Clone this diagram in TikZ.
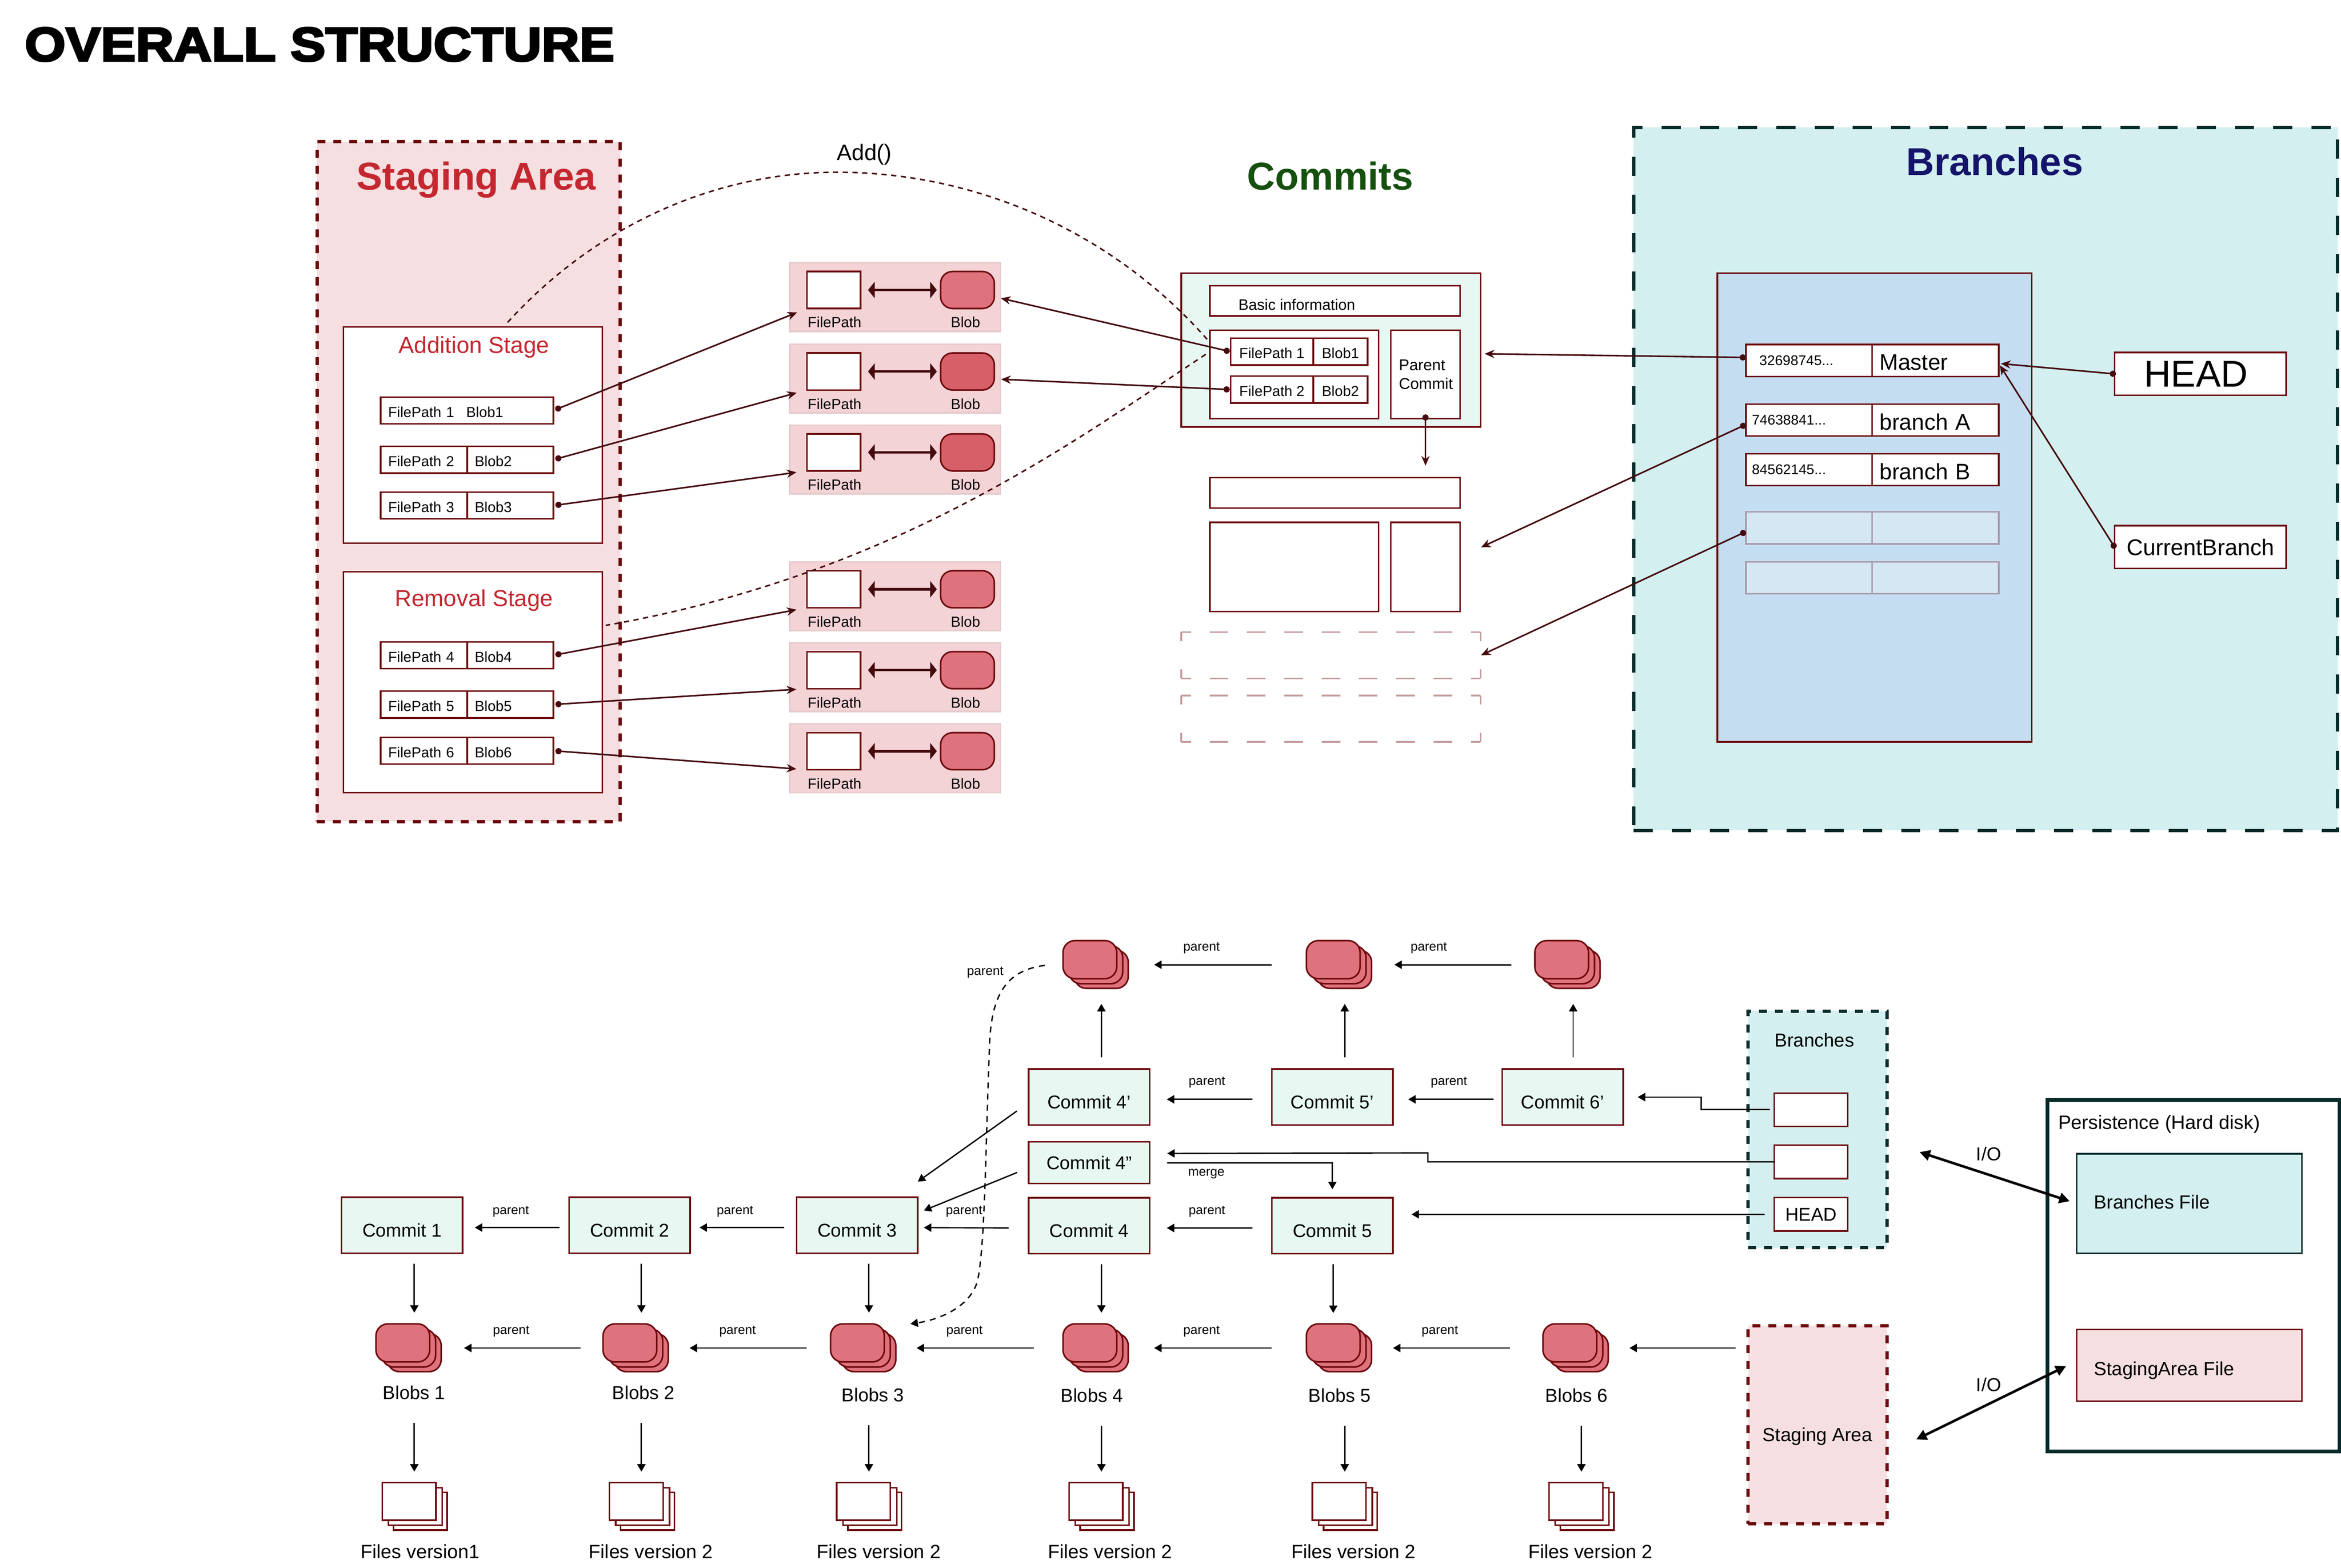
\documentclass[tikz,border=0pt]{standalone}
\usepackage{fontspec}
\setmainfont{Liberation Sans}
\newfontfamily\headfont[BoldFeatures={FakeBold=4,FakeStretch=1.1}]{Liberation Sans}
\usetikzlibrary{arrows.meta}
\definecolor{wine}{HTML}{6D0A0E}
\definecolor{deep}{HTML}{450A0E}
\definecolor{teal}{HTML}{062B2B}
\definecolor{stagefill}{HTML}{F5DFE1}
\definecolor{groupfill}{HTML}{F3D3D6}
\definecolor{blobfill}{HTML}{DF737D}
\definecolor{blobdark}{HTML}{D65F68}
\definecolor{branchfill}{HTML}{D3EFEF}
\definecolor{tablefill}{HTML}{C5DDF0}
\definecolor{ghostfill}{HTML}{D5E7F3}
\definecolor{ghostline}{HTML}{A89AAC}
\definecolor{commitfill}{HTML}{E7F8F2}
\definecolor{stagered}{HTML}{C4272F}
\definecolor{commitgreen}{HTML}{15500F}
\definecolor{branchblue}{HTML}{14146B}
\newcommand{\fsize}[1]{\fontsize{#1}{#1}\selectfont}
\newcommand{\tdots}{.{}.{}.}
\begin{document}
\begin{tikzpicture}[x=1pt,y=-1pt,
    every node/.style={inner sep=0pt,outer sep=0pt},
    box/.style 2 args={draw=wine,line width=1.05pt,fill=white,anchor=north west,
        minimum width=#1,minimum height=#2},
    area/.style 2 args={box={#1}{#2},line width=2.2pt,dash pattern=on 5.35pt off 5.35pt},
    ghostedge/.style={draw=wine!40,line width=1.05pt},
    blobshape/.style={box={36}{25.5},rounded corners=8pt,fill=blobfill},
    cell/.style={box={#1+10pt}{18},text width=#1,inner xsep=5pt,align=left,
        text height=11pt,text depth=2pt,font=\fsize{9.7}},
    idcell/.style={box={84.5}{21.4},text width=76.5pt,inner xsep=4pt,align=left,font=\fsize{9.4}},
    namecell/.style={box={84.8}{21.4},text width=74.8pt,inner xsep=5pt,align=left,
        text height=13pt,text depth=0pt,font=\fsize{15}},
    commit/.style={box={81}{37.5},fill=commitfill,text height=15.4pt,text depth=0pt,font=\fsize{12.4}},
    sidebox/.style={box={49.2}{22.4},font=\fsize{12.4}},
    caption/.style={font=\fsize{12.5}},
    tag/.style={font=\fsize{8.6}},
    title/.style={font=\fsize{26}\bfseries},
    ptr/.style={draw=deep,line width=1.05pt,{Circle[length=4.2pt]}-{Stealth[length=6.5pt,width=5.5pt]}},
    link/.style={draw=black,line width=.9pt,-{Triangle[length=5pt,width=5.5pt]}},
    pair/.style={draw=deep,line width=1.6pt,{Triangle[length=4.5pt,width=11pt]}-{Triangle[length=4.5pt,width=11pt]}},
    iolink/.style={draw=black,line width=1.7pt,{Triangle[length=7pt,width=7pt]}-{Triangle[length=7pt,width=7pt]}},
    lane/.style={draw=deep,line width=1pt,dash pattern=on 3.5pt off 3pt}]
\useasboundingbox (0,0) rectangle (1568,1050.55);
\node[anchor=west,font=\fsize{32}\headfont\bfseries] (headline) at (16.6,29.8) {OVERALL STRUCTURE};

% staging area
\node[area={203}{455.5},fill=stagefill] (staging) at (212.4,95) {};
\node[title,text=stagered,anchor=center] (stagingtitle) at (319,120.5) {Staging Area};
\node[box={173.5}{145}] (addstage) at (230,219) {};
\node[box={173.5}{148}] (rmstage) at (230,383) {};
\node[font=\fsize{15.5},text=stagered] (addtitle) at (317.5,232.5) {Addition Stage};
\node[font=\fsize{15.5},text=stagered] (rmtitle) at (317.5,402.2) {Removal Stage};
\node[cell=105.7pt] (cell1) at (255,266) {\makebox[52.3pt][l]{FilePath 1}Blob1};
\foreach \n/\y in {2/299,3/329.7,4/430,5/463,6/494}{
    \node[cell=48pt] (path\n) at (255,\y) {FilePath \n};
    \node[cell=47.7pt] (cell\n) at (313,\y) {Blob\n};
}

% path and blob pairs
\foreach \n/\y/\col in {1/176/blobfill,2/230.6/blobdark,3/284.8/blobdark,4/376.5/blobfill,5/430.7/blobfill,6/485/blobfill}{
    \node[box={141}{46},fill=groupfill,draw=groupfill!90!gray] (group\n) at (529,\y) {};
    \node[box={36}{24.8}] (fp\n) at (540.4,\y+5.9) {};
    \node[blobshape,fill=\col,minimum height=24.8] (blob\n) at (630,\y+5.9) {};
    \draw[pair,shorten <=5pt,shorten >=2.5pt] (fp\n) -- (blob\n);
    \node[font=\fsize{9.8}] (fplabel\n) at (559,\y+40) {FilePath};
    \node[font=\fsize{9.8}] (bloblabel\n) at (646.7,\y+40) {Blob};
}
\foreach \n in {1,...,6}
    \draw[ptr,shorten <=1.3pt,shorten >=7pt] (cell\n.east) -- (fp\n.south west);

% commits
\node[title,text=commitgreen] (committitle) at (891,118) {Commits};
\node[box={200.5}{103},fill=commitfill] (commit) at (791.2,183) {};
\node[box={167.7}{20.3}] (basic) at (810.3,191.4) {};
\node[anchor=west,font=\fsize{10.2}] (basictext) at (829.5,204) {Basic information};
\node[box={113.1}{59.3}] (files) at (810.3,221.3) {};
\node[box={46.4}{59.3}] (parentbox) at (931.6,221.3) {};
\node[anchor=west,align=left,font=\fsize{10.5}] (parenttext) at (937,250.8) {Parent\\[2pt]Commit};
\foreach \n/\y/\t in {1/226.6/FilePath 1,2/252/FilePath 2}{
    \node[box={55.4}{18},text height=11pt,text depth=2pt,font=\fsize{9.7}] (entry\n) at (824.2,\y) {\t};
    \node[box={36.4}{18},text height=11pt,text depth=2pt,font=\fsize{9.7}] (entryblob\n) at (879.6,\y) {Blob\n};
}
\node[box={167.7}{20.4}] (prevtop) at (810.3,320) {};
\node[box={113.1}{59.8}] (prevfiles) at (810.3,350) {};
\node[box={46.4}{59.8}] (prevparent) at (931.6,350) {};
\node[box={200.5}{31},draw=none,fill=none] (ghost1) at (791.2,423.5) {};
\node[box={200.5}{31},draw=none,fill=none] (ghost2) at (791.2,466) {};
\foreach \g in {ghost1,ghost2}{
    \draw[ghostedge,dash pattern=on 12.5pt off 12.5pt,dash phase=6pt] (\g.north west) -- (\g.north east) (\g.south west) -- (\g.south east);
    \draw[ghostedge,dash pattern=on 6pt off 19pt on 6pt off 0pt] (\g.north west) -- (\g.south west) (\g.north east) -- (\g.south east);
}
\draw[ptr,shorten <=-3pt,shorten >=8pt] (parentbox.south) -- (parentbox.south |- prevtop.north);
\draw[ptr,shorten <=.5pt,shorten >=4.5pt] (entry1.west) -- ([yshift=-4.5pt]blob1.east);
\draw[ptr,shorten <=.5pt,shorten >=4.5pt] (entry2.west) -- ([yshift=-5pt]blob2.east);

% branches
\node[area={471.5}{471},fill=branchfill,draw=teal,dash pattern=on 12.8pt off 12.8pt] (branches) at (1094.2,85.4) {};
\node[title,text=branchblue] (branchtitle) at (1336,108) {Branches};
\node[box={210.6}{314.1},fill=tablefill] (table) at (1150.3,182.9) {};
\foreach \n/\y/\id/\t in {1/230.8/\hspace*{5pt}32698745\tdots/Master,2/270.7/74638841\tdots/branch A,3/304/84562145\tdots/branch B}{
    \node[idcell] (id\n) at (1169.4,\y) {\id};
    \node[namecell] (name\n) at (1253.9,\y) {\t};
}
\foreach \n/\y in {4/343,5/376.4}{
    \node[idcell,fill=ghostfill,draw=ghostline] (id\n) at (1169.4,\y) {};
    \node[namecell,fill=ghostfill,draw=ghostline] (name\n) at (1253.9,\y) {};
}
\node[box={115}{28.8},font=\fsize{25}] (head) at (1416.3,236.1) {HEAD\hspace*{6pt}};
\node[box={115}{28.6},font=\fsize{15.2}] (current) at (1416.3,352.2) {CurrentBranch};
\coordinate (prevtip) at (992,366.7);
\coordinate (ghosttip) at (992,439);
\draw[ptr,shorten >=2.7pt] ([yshift=2pt]id1.west) -- ([yshift=-2.5pt]commit.east);
\draw[ptr] ([yshift=-3pt]id2.west) -- (prevtip);
\draw[ptr] ([yshift=-2.5pt]id4.west) -- (ghosttip);
\draw[ptr,shorten <=-1pt,shorten >=1.5pt] (head.west) -- ([yshift=-2pt]name1.east);
\draw[ptr,shorten <=-1pt,shorten >=1.5pt] (current.west) -- ([yshift=-2pt]name1.east);

% add and remove curves
\coordinate (addstart) at (340,216);
\coordinate (addtop) at (560.6,115.4);
\coordinate (addend) at (809.6,228.6);
\coordinate (rmstart) at (807.6,237.4);
\coordinate (rmend) at (405.7,419);
\draw[lane] (addstart) .. controls (400,150) and (480,115.4) .. (addtop)
    .. controls (660,115.4) and (750,160) .. (addend);
\draw[lane] (rmstart) .. controls (720,295) and (600,385) .. (rmend);
\node[font=\fsize{15}] (addlabel) at (579,103.5) {Add()};

% history
\foreach \n/\x/\y/\t in {c1/228.8/802.2/Commit 1,c2/381.2/802.2/Commit 2,c3/533.6/802.2/Commit 3,
    c4/689/802.5/Commit 4,c5/851.9/802.5/Commit 5,c4p/689/716.3/Commit 4’,c5p/851.9/716.3/Commit 5’,c6p/1006.2/716.3/Commit 6’}
    \node[commit] (\n) at (\x,\y) {\t};
\node[box={81}{28},fill=commitfill,font=\fsize{12.4}] (c4pp) at (689,765) {Commit 4”};
\foreach \n/\x/\y in {bt4/712/630.2,bt5/875/630.2,bt6/1028/630.2,b1/251.8/887,b2/403.9/887,b3/556.3/887,b4/712/887,b5/875/887,b6/1033.5/887}{
    \node[blobshape] (\n c) at (\x+7.7,\y+6.5) {};
    \node[blobshape] (\n b) at (\x+4,\y+3.4) {};
    \node[blobshape] (\n) at (\x,\y) {};
}
\foreach \n/\x in {1/256,2/408.2,3/560.4,4/716,5/879,6/1037.5}{
    \node[box={36}{25.2}] (f\n c) at (\x+7.5,999.9) {};
    \node[box={36}{25.2}] (f\n b) at (\x+4.2,996.7) {};
    \node[box={36}{25.2}] (f\n) at (\x,993.4) {};
}
\foreach \n/\x/\y in {1/277.3/933,2/431/933,3/584.6/934.7,4/731.3/935,5/897.3/935,6/1056/935}
    \node[caption] (lb\n) at (\x,\y) {Blobs \n};
\foreach \n/\x/\t in {1/281.4/Files version1,2/436/Files version 2,3/588.5/Files version 2,4/743.5/Files version 2,5/906.5/Files version 2,6/1065.2/Files version 2}
    \node[font=\fsize{12.9}] (lf\n) at (\x,1039.6) {\t};
\foreach \n/\x/\y in {a/804.8/635.3,b/957/635.3,c/808.4/725.3,d/970.5/725.3,e/808.4/811.8,f/645.7/811.8,g/492.3/811.7,h/342.1/811.7,
    i/342.4/891.9,j/494/891.9,k/646/891.9,l/804.8/891.9,m/964.4/891.9,n/659.9/651.6}
    \node[tag] (parent\n) at (\x,\y) {parent};
\node[tag] (mergetag) at (808,786.4) {merge};

% parent links
\foreach \a/\b/\s/\e in {c2/c1/6.4/8.2,c3/c2/8.3/6.3,c4/c3/13.4/4.2,c5/c4/13/11.5,c5p/c4p/13/11.5,c6p/c5p/5.8/10.3}
    \draw[link,shorten <=\s pt,shorten >=\e pt] ([yshift=-1.5pt]\a.west) -- ([yshift=-1.5pt]\b.east);
\foreach \a/\b/\s/\e in {bt5/bt4/27.4/21,bt6/bt5/19.7/18.9,b2/b1/19/19,b3/b2/20/18,b4/b3/23.5/17.6,b5/b4/27.4/21,b6/b5/26/18}
    \draw[link,shorten <=\s pt,shorten >=\e pt] (\a b.west) -- (\b b.east);
\foreach \n/\b in {c1/b1c,c2/b2c,c3/b3c,c4/b4c}
    \draw[link,shorten <=7pt,shorten >=14pt] (\n.south -| \b) -- (\b.north);
\draw[link,shorten <=7pt,shorten >=7.3pt] (c5.south -| b5) -- (b5.north);
\foreach \n in {1,...,6}
    \draw[link,shorten <=15.7pt,shorten >=13.9pt] (lb\n.south -| b\n c) -- (f\n c.north -| b\n c);
\foreach \n/\b in {c4p/bt4c,c5p/bt5c,c6p/bt6c}
    \draw[link,shorten <=8pt,shorten >=10.4pt] (\n.north -| \b) -- (\b.south);
\coordinate (c3tipa) at (614.7,791.7);
\coordinate (c3tipb) at (618.8,811);
\draw[link,shorten <=9.7pt] ([yshift=-3.7pt]c4p.west) -- (c3tipa);
\draw[link,shorten <=8.4pt] ([yshift=-3.4pt]c4pp.west) -- (c3tipb);
\draw[link,shorten <=11.8pt,shorten >=5.7pt] (c4pp.east) -| (c5.north);
\coordinate (backstart) at (699.8,646.8);
\coordinate (backtip) at (609.8,887);
\draw[link,dash pattern=on 4pt off 3.5pt] (backstart) .. controls (675,650) and (664,665) .. (662.8,700)
    .. controls (660,770) and (660,830) .. (655,857) .. controls (651,875) and (630,884) .. (backtip);

% small branches and staging
\node[area={92.9}{158.5},fill=branchfill,draw=teal] (smallbranches) at (1170.9,677.5) {};
\node[font=\fsize{12.6}] (smalltitle) at (1215.3,696.8) {Branches};
\node[sidebox] (bbox1) at (1188.4,732.3) {};
\node[sidebox] (bbox2) at (1188.4,767.2) {};
\node[sidebox] (bhead) at (1188.4,802.4) {HEAD};
\node[area={92.9}{132.8},fill=stagefill,text height=22pt,text depth=0pt,font=\fsize{12.7}] (smallstage) at (1170.9,888.2) {Staging Area};
\coordinate (jogone) at (1139.5,743.5);
\coordinate (jogtwo) at (956.4,778.4);
\draw[link,shorten <=2.9pt,shorten >=9.7pt] (bbox1.west) -- (jogone) |- (c6p.east);
\draw[link,shorten >=11.8pt] (bbox2.west) -- (jogtwo) -- ++(0,-6) -- ([yshift=6.2pt]c4pp.east);
\draw[link,shorten <=6.6pt,shorten >=12.5pt] (bhead.west) -- (bhead.west -| c5.east);
\draw[link,shorten <=8.4pt,shorten >=17.9pt] (b6b.east -| smallstage.west) -- (b6b.east);

% persistence
\node[box={195.7}{235.5},draw=teal,line width=2.4pt] (disk) at (1371.3,737) {};
\node[anchor=west,font=\fsize{13}] (disktext) at (1378.6,753.1) {Persistence (Hard disk)};
\node[box={150.8}{66.7},fill=branchfill,draw=teal] (bfile) at (1391,773) {};
\node[anchor=west,font=\fsize{12.7}] (bfiletext) at (1402.6,805.3) {Branches File};
\node[box={150.8}{48},fill=stagefill] (sfile) at (1391,890.8) {};
\node[anchor=west,font=\fsize{12.7}] (sfiletext) at (1402.6,918.2) {StagingArea File};
\coordinate (ioone) at (1285.7,771.9);
\coordinate (iotwo) at (1283.5,964.4);
\draw[iolink,shorten >=5pt] (ioone) -- (bfile.west);
\draw[iolink,shorten >=8pt] (iotwo) -- ([yshift=3pt]sfile.west);
\node[caption] (iolabel1) at (1332,773.2) {I/O};
\node[caption] (iolabel2) at (1332,927.6) {I/O};
\end{tikzpicture}
\end{document}
